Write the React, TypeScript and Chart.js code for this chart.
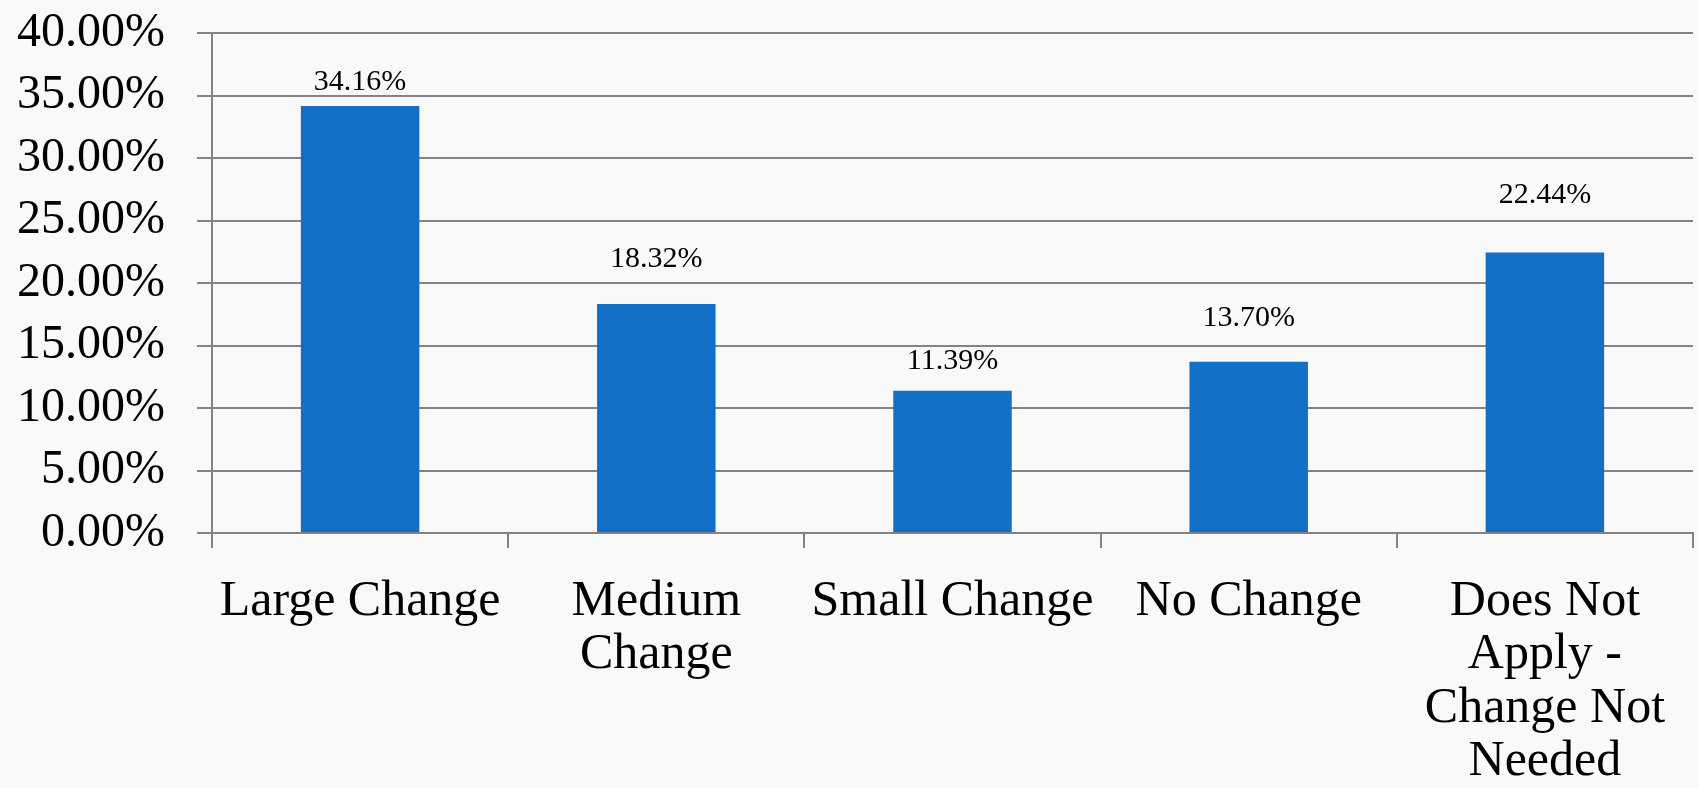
import { useEffect, useRef } from "react";
import { Chart, registerables } from "chart.js";

Chart.register(...registerables);

// Survey results: how much change respondents reported
const categories: string[][] = [
  ["Large Change"],
  ["Medium", "Change"],
  ["Small Change"],
  ["No Change"],
  ["Does Not", "Apply -", "Change Not", "Needed"],
];
const shares: number[] = [34.16, 18.32, 11.39, 13.7, 22.44];

// Axis range for the percentage scale
const yMin = 0;
const yMax = 40;
const yStep = 5;

// Vertical gap (px) between each bar top and its value label baseline
const labelLift: number[] = [16, 37, 22, 36, 50];

const FONT = "'Liberation Serif', 'Times New Roman', serif";
const BAR_COLOR = "#126fc5";
const LINE_COLOR = "#838383";

const valueLabels = {
  id: "valueLabels",
  afterDatasetsDraw(chart: any) {
    const ctx = chart.ctx;
    const meta = chart.getDatasetMeta(0);
    ctx.save();
    ctx.font = `30px ${FONT}`;
    ctx.fillStyle = "#000";
    ctx.textAlign = "center";
    ctx.textBaseline = "alphabetic";
    meta.data.forEach((bar: any, i: number) => {
      ctx.fillText(shares[i].toFixed(2) + "%", bar.x, bar.y - labelLift[i]);
    });
    ctx.restore();
  },
};

export default function App() {
  const canvasRef = useRef<HTMLCanvasElement | null>(null);

  useEffect(() => {
    document.body.style.margin = "0";
    const canvas = canvasRef.current;
    if (!canvas) return;
    const chart = new Chart(canvas, {
      type: "bar",
      data: {
        labels: categories,
        datasets: [
          {
            data: shares,
            backgroundColor: BAR_COLOR,
            borderWidth: 0,
            barPercentage: 0.4,
            categoryPercentage: 1,
          },
        ],
      },
      options: {
        responsive: false,
        animation: false,
        layout: { padding: { top: 0, right: 5, left: 0, bottom: 0 } },
        plugins: {
          legend: { display: false },
          tooltip: { enabled: false },
        },
        scales: {
          x: {
            afterFit: (s: any) => {
              s.height = 255;
            },
            grid: {
              offset: true,
              drawOnChartArea: false,
              drawTicks: true,
              tickLength: 15,
              color: LINE_COLOR,
              lineWidth: 2,
            },
            border: { display: true, color: LINE_COLOR, width: 2 },
            ticks: {
              color: "#000",
              font: { family: FONT, size: 50, lineHeight: 1.07 },
              padding: 27,
              maxRotation: 0,
              minRotation: 0,
              autoSkip: false,
            },
          },
          y: {
            min: yMin,
            max: yMax,
            afterFit: (s: any) => {
              s.width = 212;
              s.paddingTop = 33;
              s.paddingBottom = 0;
            },
            grid: {
              color: LINE_COLOR,
              lineWidth: 2,
              tickLength: 15,
            },
            border: { display: true, color: LINE_COLOR, width: 2 },
            ticks: {
              stepSize: yStep,
              autoSkip: false,
              color: "#000",
              padding: 32,
              font: { family: FONT, size: 48 },
              callback: (v: any) => Number(v).toFixed(2) + "%",
            },
          },
        },
      },
      plugins: [valueLabels],
    });
    return () => chart.destroy();
  }, []);

  return (
    <div style={{ width: 1698, height: 788, background: "#f9f9f9", overflow: "hidden" }}>
      <canvas ref={canvasRef} width={1698} height={788} style={{ display: "block" }} />
    </div>
  );
}
